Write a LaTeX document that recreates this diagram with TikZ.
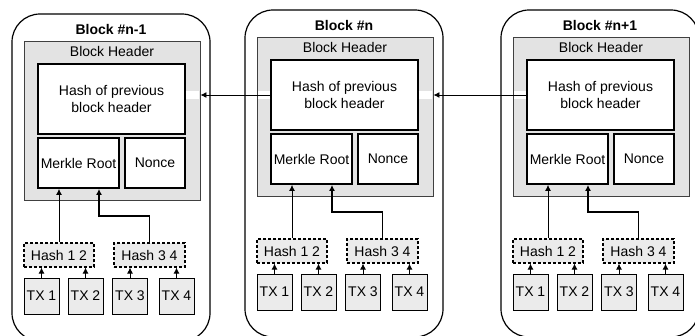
\documentclass[tikz,border=0pt]{standalone}
\usepackage{fontspec}
\setmainfont{Liberation Sans}
\usetikzlibrary{arrows.meta}
\tikzset{
  outerbox/.style={draw=black, line width=1.2pt, rounded corners=28pt},
  titletext/.style={font=\fontsize{14}{15}\selectfont\bfseries, inner sep=0pt},
  hdrtext/.style={font=\fontsize{14}{15}\selectfont, inner sep=0pt},
  hdr/.style={draw=black!75, line width=0.9pt, fill=black!11, inner sep=0pt},
  inbox/.style={draw=black, line width=1.8pt, fill=white, align=center,
    font=\fontsize{14}{17}\selectfont, inner sep=0pt},
  hbox/.style={draw=black, line width=1.2pt, dash pattern=on 3pt off 2pt,
    fill=black!8, font=\fontsize{14}{15}\selectfont, inner sep=0pt},
  txbox/.style={draw=black, line width=0.9pt, fill=black!8,
    minimum width=35pt, minimum height=36pt,
    font=\fontsize{14}{15}\selectfont, inner sep=0pt},
  thinarr/.style={draw=black, line width=0.9pt, -{Latex[length=6pt,width=6pt]}},
  thickarr/.style={draw=black, line width=1.6pt, -{Latex[length=6pt,width=6pt]}},
  gapband/.style={draw=white, line width=8pt}
}
\newcommand\mkblock[4]{%
\begin{scope}[shift={(#2,#3)}]
  \draw[outerbox] (-26,-50) rectangle (172,277);
  \node[hdr, minimum width=176pt, minimum height=159pt] (#1hdr) at (74,56.5) {};
  \node[titletext] (#1title) at (73,-34.5) {#4};
  \node[hdrtext] (#1hdrtext) at (74,-12.5) {Block Header};
  \node[inbox, minimum width=147pt, minimum height=70pt] (#1hash) at (73.5,35) {Hash of previous\\block header};
  \node[inbox, minimum width=81pt, minimum height=50pt] (#1mr) at (40.5,99) {Merkle Root};
  \node[inbox, minimum width=60pt, minimum height=50pt] (#1nc) at (117,99) {Nonce};
  \node[hbox, minimum width=70pt, minimum height=24pt] (#1ha) at (21,191) {Hash 1 2};
  \node[hbox, minimum width=71pt, minimum height=24pt] (#1hb) at (111.5,191) {Hash 3 4};
  \node[txbox] (#1t1) at (3.5,232) {TX 1};
  \node[txbox] (#1t2) at (47.5,232) {TX 2};
  \node[txbox] (#1t3) at (92,232) {TX 3};
  \node[txbox] (#1t4) at (138.5,232) {TX 4};
  \coordinate (#1k) at (61,152);
  \draw[thinarr] (#1ha.north) -- (#1ha.north |- #1mr.south);
  \draw[thickarr] (#1hb.north) |- (#1k) -- (#1k |- #1mr.south);
  \draw[thinarr] (#1t1.north) -- (#1t1.north |- #1ha.south);
  \draw[thinarr] (#1t2.north) -- (#1t2.north |- #1ha.south);
  \draw[thinarr] (#1t3.north) -- (#1t3.north |- #1hb.south);
  \draw[thinarr] (#1t4.north) -- (#1t4.north |- #1hb.south);
\end{scope}}
\begin{document}
\begin{tikzpicture}[x=1pt,y=-1pt]
  \useasboundingbox (0,0) rectangle (695,335);
  \clip (0,0) rectangle (695,335);
  \fill[white] (0,0) rectangle (695,335);
  \mkblock{a}{38}{64}{Block \#n-1}
  \mkblock{b}{271}{60}{Block \#n}
  \mkblock{c}{527}{60}{Block \#n+1}
  % gaps in the grey header strips where the links pass
  \draw[gapband, shorten >=1.2pt] (ahash.east |- bhash.west) -- (ahdr.east |- bhash.west);
  \draw[gapband, shorten >=1.2pt] (bhash.west) -- (bhdr.west |- bhash.west);
  \draw[gapband, shorten >=1.2pt] (bhash.east |- chash.west) -- (bhdr.east |- chash.west);
  \draw[gapband, shorten >=1.2pt] (chash.west) -- (chdr.west |- chash.west);
  % links between blocks
  \draw[thinarr] (bhash.west) -- (bhash.west -| ahdr.east);
  \draw[thinarr] (chash.west) -- (chash.west -| bhdr.east);
\end{tikzpicture}
\end{document}
